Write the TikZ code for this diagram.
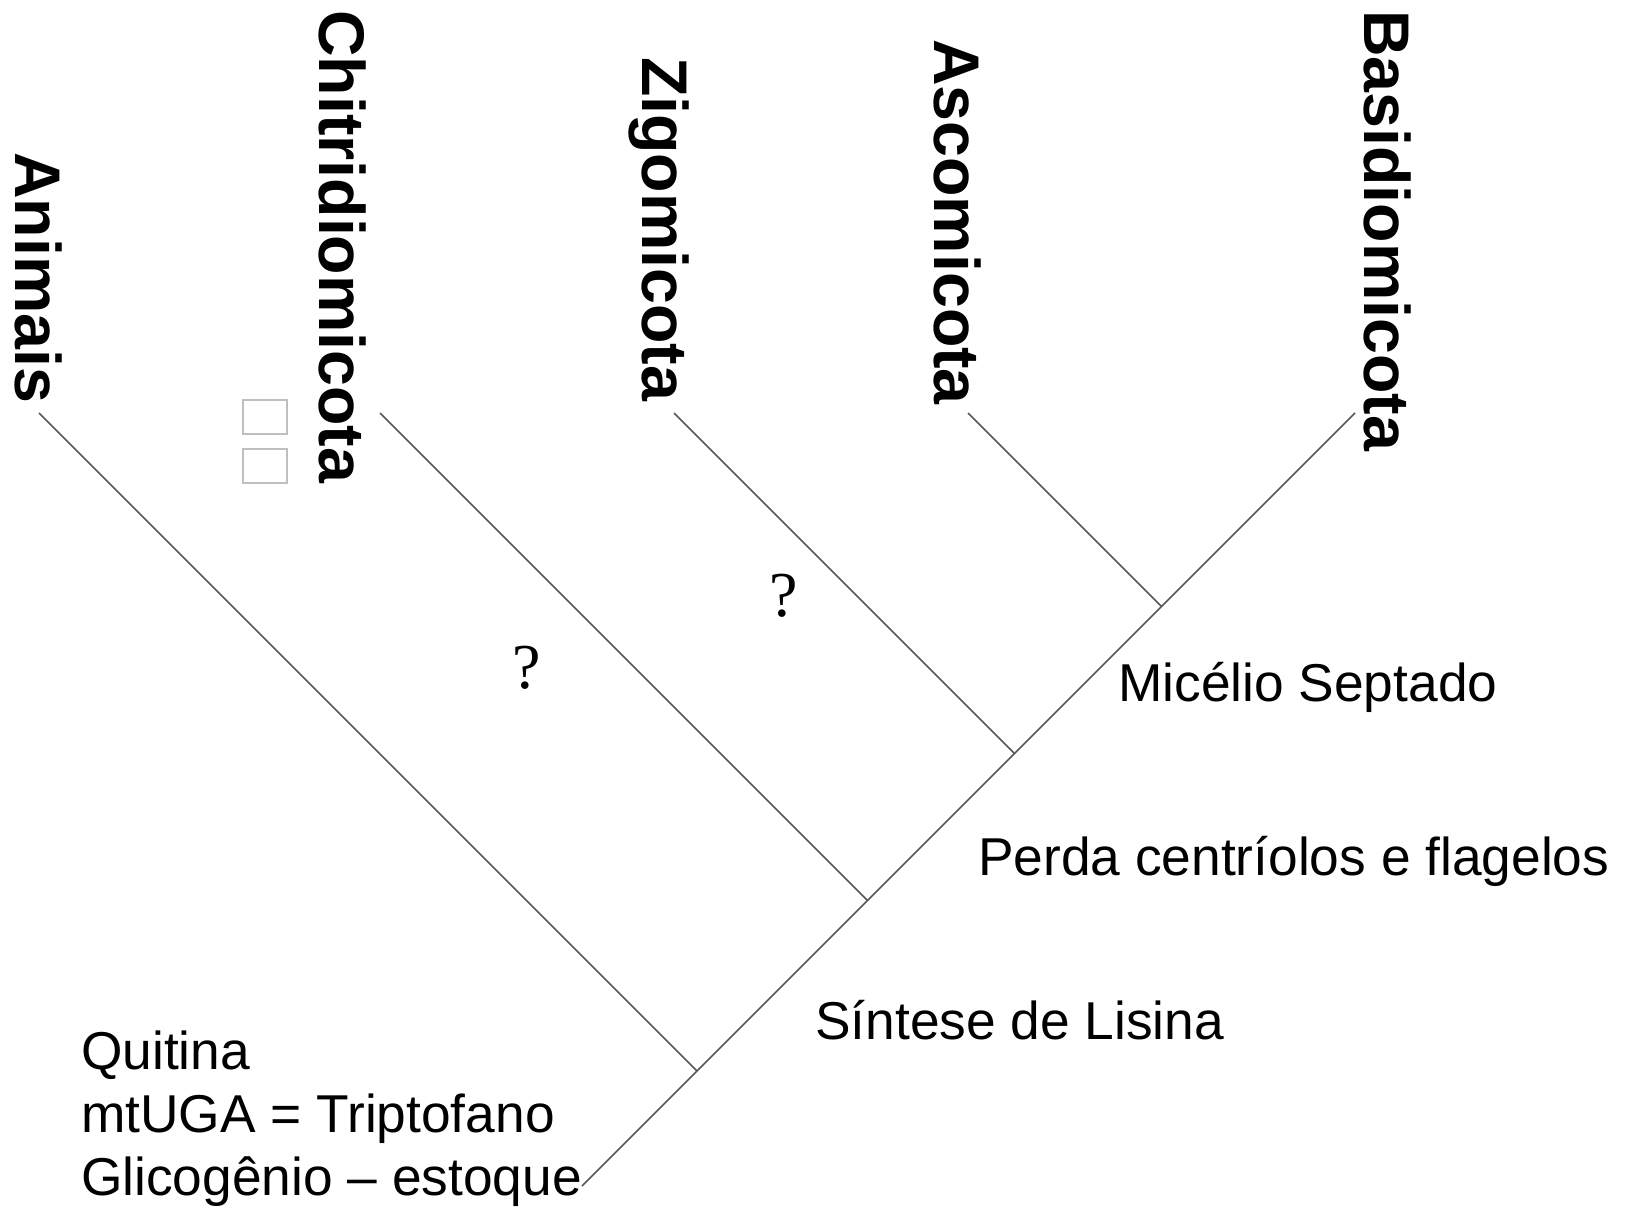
\documentclass[tikz,border=0pt]{standalone}
\usepackage{fontspec}
\setmainfont{Liberation Sans}
\newfontfamily\qfont{Liberation Serif}
\begin{document}
\begin{tikzpicture}[x=1pt,y=-1pt,
  branch/.style={draw=black!66, line width=1.7pt},
  taxon/.style={font=\fontsize{64.5}{70}\selectfont\bfseries, rotate=-90, anchor=base west, inner sep=0pt},
  trait/.style={font=\fontsize{53.3}{63}\selectfont, anchor=base west, inner sep=0pt},
  qmark/.style={font=\qfont\fontsize{64}{70}\selectfont, anchor=base west, inner sep=0pt},
  glyphbox/.style={draw=black!25, line width=2pt, minimum width=44pt, minimum height=34pt, inner sep=0pt}]
\useasboundingbox (0,0) rectangle (1627,1209);
\fill[white] (0,0) rectangle (1627,1209);

% taxon labels
\node[taxon] (animais) at (16,152) {Animais};
\node[taxon] (chitri) at (319,10) {Chitridiomicota};
\node[taxon] (zigo) at (642,57) {Zigomicota};
\node[taxon] (asco) at (934,39) {Ascomicota};
\node[taxon] (basidio) at (1364,10) {Basidiomicota};

% missing glyph boxes
\node[glyphbox] (box1) at (265,416.5) {};
\node[glyphbox] (box2) at (265,465.5) {};

% tips
\coordinate (tA) at (39,413);
\coordinate (tC) at (380,413);
\coordinate (tZ) at (674,413);
\coordinate (tS) at (968,413);
\coordinate (tB) at (1355,413);
% junctions
\coordinate (root) at (582,1186);
\coordinate (j1) at (697,1071);
\coordinate (j2) at (867.5,900.5);
\coordinate (j3) at (1014.5,753.5);
\coordinate (j4) at (1161.5,606.5);

\draw[branch] (root) -- (j1) -- (j2) -- (j3) -- (j4);
\draw[branch] (tA) -- (j1);
\draw[branch] (tC) -- (j2);
\draw[branch] (tZ) -- (j3);
\draw[branch] (tS) -- (j4);
\draw[branch] (tB) -- (j4);

% question marks
\node[qmark] (q1) at (512,688) {?};
\node[qmark] (q2) at (769,616) {?};

% traits
\node[trait] (micelio) at (1118,701) {Micélio Septado};
\node[trait] (perda) at (978,875) {Perda centríolos e flagelos};
\node[trait] (sintese) at (815,1039) {Síntese de Lisina};
\node[trait] (quitina) at (81,1069) {Quitina};
\node[trait] (mtuga) at (81,1132) {mtUGA = Triptofano};
\node[trait] (glico) at (81,1195) {Glicogênio – estoque};
\end{tikzpicture}
\end{document}
